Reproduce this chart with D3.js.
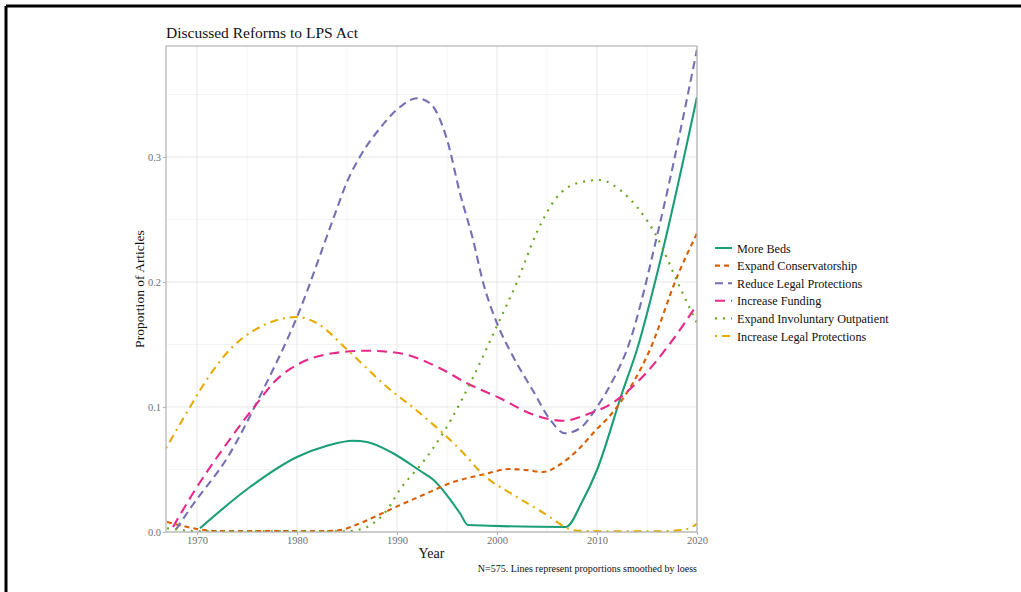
<!DOCTYPE html>
<html>
<head>
<meta charset="utf-8">
<script src="https://cdn.jsdelivr.net/npm/d3@7"></script>
<style>
  html, body { margin: 0; padding: 0; background: #fff; }
  svg { display: block; }
  text { font-family: "Liberation Serif", "Times New Roman", serif; }
</style>
</head>
<body>
<svg id="chart" width="1021" height="592"></svg>
<script>
// Smoothed proportions of articles per reform topic (year, proportion)
const seriesNames = [
  "More Beds",
  "Expand Conservatorship",
  "Reduce Legal Protections",
  "Increase Funding",
  "Expand Involuntary Outpatient",
  "Increase Legal Protections"
];

const moreBedsYears = [1970.3, 1975.3, 1980, 1983, 1985.6, 1987, 1989.6, 1992.3, 1993.6, 1996.3, 1997.1, 2006.9, 2008.5, 2010, 2012.5, 2014, 2016.6, 2020];
const moreBedsValues = [0.003, 0.036, 0.06, 0.069, 0.073, 0.072, 0.063, 0.049, 0.042, 0.015, 0.0056, 0.004, 0.024, 0.0496, 0.111, 0.146, 0.226, 0.348];

const conservYears = [1967, 1968.5, 1970.3, 1972, 1975, 1980, 1983, 1984.3, 1986.3, 1988, 1989.6, 1993, 1995.3, 1998.6, 2001.3, 2003, 2004.6, 2006.3, 2008, 2009.6, 2012, 2015.3, 2018, 2020];
const conservValues = [0.008, 0.005, 0.002, 0.0008, 0.0008, 0.0008, 0.0008, 0.0015, 0.007, 0.013, 0.019, 0.031, 0.039, 0.046, 0.0504, 0.0495, 0.048, 0.054, 0.065, 0.079, 0.1, 0.146, 0.204, 0.239];

const reduceYears = [1967.9, 1969.6, 1973, 1976.6, 1980, 1983.6, 1985, 1986.5, 1988.3, 1990.3, 1992, 1993.3, 1995, 1996.3, 1997.6, 1998.6, 2000, 2001.5, 2003.6, 2005.3, 2006.8, 2008.3, 2010, 2011.6, 2013, 2016.3, 2020];
const reduceValues = [0.002, 0.022, 0.059, 0.1136, 0.172, 0.25, 0.28, 0.303, 0.323, 0.34, 0.347, 0.343, 0.314, 0.271, 0.234, 0.2, 0.167, 0.142, 0.113, 0.09, 0.079, 0.083, 0.1, 0.1216, 0.146, 0.247, 0.386];

const fundingYears = [1967.6, 1969.6, 1973, 1976.3, 1977.6, 1980.3, 1983.6, 1987, 1990.3, 1994.3, 1997, 2000.3, 2003.6, 2006.6, 2009.3, 2011.3, 2014.3, 2017.6, 2020];
const fundingValues = [0.004, 0.031, 0.071, 0.106, 0.119, 0.135, 0.143, 0.145, 0.143, 0.131, 0.119, 0.107, 0.094, 0.089, 0.095, 0.102, 0.122, 0.154, 0.182];

const outpatientYears = [1967, 1968.5, 1970, 1975, 1980, 1985, 1986, 1987, 1989, 1990.3, 1992.6, 1994.6, 1996.3, 1997.5, 2000, 2002, 2004, 2006, 2008, 2010.3, 2012.3, 2014, 2016, 2018.1, 2020];
const outpatientValues = [0.003, 0.0015, 0.0005, 0.0005, 0.0005, 0.0005, 0.0015, 0.004, 0.0176, 0.034, 0.056, 0.079, 0.103, 0.122, 0.165, 0.2, 0.24, 0.268, 0.279, 0.2816, 0.2736, 0.26, 0.236, 0.199, 0.167];

const legalIncYears = [1966.9, 1969.3, 1970.5, 1973.3, 1976.3, 1980, 1982, 1985, 1989, 1992, 1994.6, 1996.3, 1998.6, 2002, 2005.3, 2006.8, 2008, 2012, 2016, 2018.6, 2020];
const legalIncValues = [0.067, 0.1, 0.116, 0.146, 0.164, 0.172, 0.167, 0.146, 0.116, 0.097, 0.079, 0.066, 0.046, 0.028, 0.012, 0.004, 0.001, 0.0006, 0.0006, 0.0016, 0.0064];

const xTicks = [1970, 1980, 1990, 2000, 2010, 2020];
const yTicks = [0, 0.1, 0.2, 0.3];
const xMinor = [1975, 1985, 1995, 2005, 2015];
const yMinor = [0.05, 0.15, 0.25, 0.35];

const colors = ["#1b9e77", "#d95f02", "#7570b3", "#e7298a", "#66a61e", "#e6ab02"];
const dashes = [null, "5,4", "8,5", "10,6", "2,6", "2,5,8,5"];

const seriesYears = [moreBedsYears, conservYears, reduceYears, fundingYears, outpatientYears, legalIncYears];
const seriesValues = [moreBedsValues, conservValues, reduceValues, fundingValues, outpatientValues, legalIncValues];

const series = seriesNames.map((name, i) => ({
  name,
  color: colors[i],
  dash: dashes[i],
  points: seriesYears[i].map((yr, j) => ({ year: yr, value: seriesValues[i][j] }))
}));

// Layout
const panel = { left: 166, right: 697, top: 46, bottom: 532 };

const svg = d3.select("#chart");

const x = d3.scaleLinear().domain([1966.9, 2020]).range([panel.left, panel.right]);
const y = d3.scaleLinear().domain([0, 0.3888]).range([panel.bottom, panel.top]);

// Outer frame
svg.append("line").attr("x1", 6).attr("x2", 1021).attr("y1", 6).attr("y2", 6)
  .attr("stroke", "#000").attr("stroke-width", 3);
svg.append("line").attr("x1", 6).attr("x2", 6).attr("y1", 6).attr("y2", 592)
  .attr("stroke", "#000").attr("stroke-width", 3);

// Title
svg.append("text")
  .attr("x", panel.left).attr("y", 38)
  .attr("font-size", 15.5).attr("fill", "#111")
  .text("Discussed Reforms to LPS Act");

// Grid
const grid = svg.append("g");
grid.selectAll("line.xminor").data(xMinor).enter().append("line")
  .attr("x1", d => x(d)).attr("x2", d => x(d))
  .attr("y1", panel.top).attr("y2", panel.bottom)
  .attr("stroke", "#f3f3f3").attr("stroke-width", 1);
grid.selectAll("line.yminor").data(yMinor).enter().append("line")
  .attr("y1", d => y(d)).attr("y2", d => y(d))
  .attr("x1", panel.left).attr("x2", panel.right)
  .attr("stroke", "#f3f3f3").attr("stroke-width", 1);
grid.selectAll("line.xmajor").data(xTicks).enter().append("line")
  .attr("x1", d => x(d)).attr("x2", d => x(d))
  .attr("y1", panel.top).attr("y2", panel.bottom)
  .attr("stroke", "#e6e6e6").attr("stroke-width", 1);
grid.selectAll("line.ymajor").data(yTicks).enter().append("line")
  .attr("y1", d => y(d)).attr("y2", d => y(d))
  .attr("x1", panel.left).attr("x2", panel.right)
  .attr("stroke", "#e6e6e6").attr("stroke-width", 1);

// Lines
svg.append("clipPath").attr("id", "panel-clip")
  .append("rect")
  .attr("x", panel.left).attr("y", panel.top)
  .attr("width", panel.right - panel.left).attr("height", panel.bottom - panel.top);

const line = d3.line()
  .x(d => x(d.year))
  .y(d => y(d.value))
  .curve(d3.curveMonotoneX);

const lines = svg.append("g").attr("clip-path", "url(#panel-clip)");
lines.selectAll("path").data(series).enter().append("path")
  .attr("d", d => line(d.points))
  .attr("fill", "none")
  .attr("stroke", d => d.color)
  .attr("stroke-width", 2.1)
  .attr("stroke-dasharray", d => d.dash)
  .attr("stroke-linecap", "butt");

// Panel border
svg.append("rect")
  .attr("x", panel.left).attr("y", panel.top)
  .attr("width", panel.right - panel.left).attr("height", panel.bottom - panel.top)
  .attr("fill", "none").attr("stroke", "#b3b3b3").attr("stroke-width", 1.2);

// Axes
const xAxis = d3.axisBottom(x).tickValues(xTicks).tickFormat(d3.format("d")).tickSize(3).tickPadding(2);
const yAxis = d3.axisLeft(y).tickValues(yTicks).tickFormat(d3.format(".1f")).tickSize(3).tickPadding(2);

const gx = svg.append("g").attr("transform", `translate(0,${panel.bottom})`).call(xAxis);
const gy = svg.append("g").attr("transform", `translate(${panel.left},0)`).call(yAxis);
[gx, gy].forEach(g => {
  g.select(".domain").remove();
  g.selectAll(".tick line").attr("stroke", "#b3b3b3").attr("stroke-width", 1.1);
  g.selectAll(".tick text")
    .attr("fill", "#6e6e6e")
    .attr("font-size", 10.5)
    .attr("font-family", "Liberation Serif, serif");
});

// Axis titles
svg.append("text")
  .attr("x", (panel.left + panel.right) / 2).attr("y", 558)
  .attr("text-anchor", "middle").attr("font-size", 14).attr("fill", "#111")
  .text("Year");
svg.append("text")
  .attr("transform", `translate(144,${(panel.top + panel.bottom) / 2}) rotate(-90)`)
  .attr("text-anchor", "middle").attr("font-size", 13.5).attr("fill", "#111")
  .text("Proportion of Articles");

// Caption
svg.append("text")
  .attr("x", panel.right).attr("y", 572)
  .attr("text-anchor", "end").attr("font-size", 10).attr("fill", "#111")
  .text("N=575. Lines represent proportions smoothed by loess");

// Legend
const legend = svg.append("g").attr("transform", "translate(715,248)");
const rows = legend.selectAll("g").data(series).enter().append("g")
  .attr("transform", (d, i) => `translate(0,${i * 17.6})`);
rows.append("line")
  .attr("x1", 0).attr("x2", 17).attr("y1", 0).attr("y2", 0)
  .attr("stroke", d => d.color).attr("stroke-width", 2.1)
  .attr("stroke-dasharray", d => d.dash);
rows.append("text")
  .attr("x", 22).attr("y", 4.5)
  .attr("font-size", 12.2).attr("fill", "#111")
  .text(d => d.name);
</script>
</body>
</html>
